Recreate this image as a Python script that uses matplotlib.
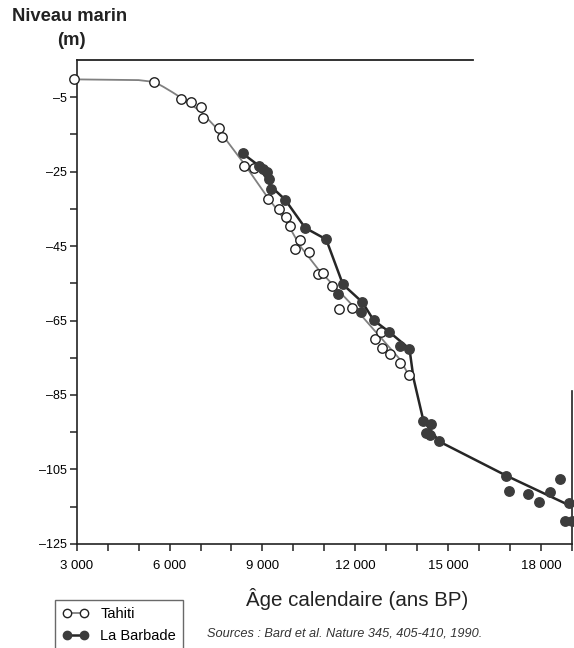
import numpy as np
import matplotlib
matplotlib.use("Agg")
import matplotlib.pyplot as plt
from matplotlib.lines import Line2D
from matplotlib.ticker import FixedLocator

plt.rcParams['font.family'] = ['Liberation Sans', 'DejaVu Sans']

# Tahiti (open circles)
tahiti_age = [2900, 5510, 6360, 6690, 7030, 7090, 7600, 7700, 8420, 8740,
              9190, 9530, 9750, 9880, 10060, 10220, 10510, 10810, 10970, 11260,
              11460, 11890, 12640, 12840, 12860, 13130, 13450, 13720]
tahiti_level = [0.0, -0.8, -5.5, -6.4, -7.6, -10.7, -13.4, -15.8, -23.4, -24.1,
                -32.4, -35.0, -37.1, -39.5, -45.7, -43.5, -46.5, -52.6, -52.2, -55.6,
                -61.8, -61.6, -70.1, -68.2, -72.4, -73.9, -76.4, -79.6]
# smooth curve drawn through the Tahiti points
tahiti_fit_age = [2900, 5000, 5510, 5800, 6100, 6400, 6700, 7030, 7650, 8420,
                  9140, 9790, 10220, 10810, 11940, 12590, 13450, 13720]
tahiti_fit_level = [-0.2, -0.4, -0.9, -2.2, -3.7, -5.3, -7.0, -9.0, -14.5, -23.0,
                    -31.6, -38.7, -45.0, -51.3, -61.2, -67.4, -75.5, -79.6]

# La Barbade (filled circles)
barb_age = [8360, 8900, 9030, 9140, 9220, 9280, 9730, 10380, 11060, 11440,
            11600, 12180, 12230, 12590, 13100, 13430, 13750, 14200, 14280, 14420,
            14450, 14710, 16880, 16980, 17580, 17920, 18280, 18620, 18760, 18890, 19000]
barb_level = [-20.1, -23.5, -24.2, -25.1, -27.1, -29.6, -32.5, -40.1, -43.2, -57.8,
              -55.3, -62.8, -60.1, -64.9, -68.1, -71.9, -72.6, -91.9, -95.1, -95.7,
              -92.8, -97.5, -106.7, -110.7, -111.7, -113.7, -111.0, -107.6, -119.0, -114.0, -119.0]
barb_fit_age = [8360, 8900, 9280, 9730, 10380, 11060, 11600, 12230, 12590, 13100,
                13750, 13880, 14200, 14710, 16880, 19000]
barb_fit_level = [-20.1, -23.5, -29.0, -32.5, -40.1, -43.2, -55.3, -60.1, -64.9, -68.1,
                  -72.6, -80.5, -91.9, -97.5, -106.7, -115.0]

x_major = [3000, 6000, 9000, 12000, 15000, 18000]
x_labels = ["3 000", "6 000", "9 000", "12 000", "15 000", "18 000"]
y_major = [-5, -25, -45, -65, -85, -105, -125]

fig = plt.figure(figsize=(5.74, 6.48), dpi=100)
ax = fig.add_axes([0.1336, 0.1608, 0.8629, 0.7466])

ax.plot(tahiti_fit_age, tahiti_fit_level, color='#808080', lw=1.3, zorder=2)
ax.plot(barb_fit_age, barb_fit_level, color='#262626', lw=1.8, zorder=3)
ax.plot(tahiti_age, tahiti_level, 'o', ms=6.8, mfc='white', mec='#222222',
        mew=1.0, zorder=4, clip_on=False)
ax.plot(barb_age, barb_level, 'o', ms=6.8, mfc='#3c3c3c', mec='#3c3c3c',
        zorder=5, clip_on=False)

ax.set_xlim(3000, 19000)
ax.set_ylim(-125, 5)

ax.xaxis.set_major_locator(FixedLocator(x_major))
ax.xaxis.set_minor_locator(FixedLocator(np.arange(3000, 19001, 1000)))
ax.set_xticklabels(x_labels)
ax.yaxis.set_major_locator(FixedLocator(y_major))
ax.yaxis.set_minor_locator(FixedLocator(np.arange(-115, 5, 20)))
ax.set_yticklabels([str(v).replace('-', '\u2013') for v in y_major])

ax.tick_params(which='both', direction='out', length=5, width=1.1, color='#222222')
ax.tick_params(axis='x', labelsize=9.5, pad=7)
ax.tick_params(axis='y', labelsize=9, pad=2)

for s in ['left', 'bottom', 'right']:
    ax.spines[s].set_linewidth(1.2)
    ax.spines[s].set_color('#222222')
ax.spines['top'].set_visible(False)
ax.spines['right'].set_bounds(-125, -84)
ax.axhline(5, xmin=0, xmax=0.80, color='#222222', lw=1.3, clip_on=False)

fig.text(0.021, 0.974, "Niveau marin", fontsize=13.2, fontweight='bold',
         color='#222222', va='center', ha='left')
fig.text(0.125, 0.938, "(m)", fontsize=13.2, fontweight='bold',
         color='#222222', va='center', ha='center')
fig.text(0.622, 0.075, "Âge calendaire (ans BP)", fontsize=14.8, color='#222222',
         va='center', ha='center')
fig.text(0.360, 0.022, "Sources : Bard et al. Nature 345, 405-410, 1990.",
         fontsize=9.2, style='italic', color='#333333', va='center', ha='left')

handles = [
    Line2D([], [], color='#808080', lw=1.3, marker='o', ms=6, mfc='white',
           mec='#222222'),
    Line2D([], [], color='#262626', lw=1.8, marker='o', ms=6, mfc='#3c3c3c',
           mec='#3c3c3c'),
]
leg = fig.legend(handles, ["Tahiti", "La Barbade"], loc='lower left',
                 bbox_to_anchor=(0.096, -0.004), numpoints=2, handlelength=1.8,
                 fontsize=10.5, frameon=True, fancybox=False, borderpad=0.5,
                 labelspacing=0.55, handletextpad=0.8, borderaxespad=0)
leg.get_frame().set_edgecolor('#444444')
leg.get_frame().set_linewidth(1.0)

fig.savefig("out.png", dpi=100)
